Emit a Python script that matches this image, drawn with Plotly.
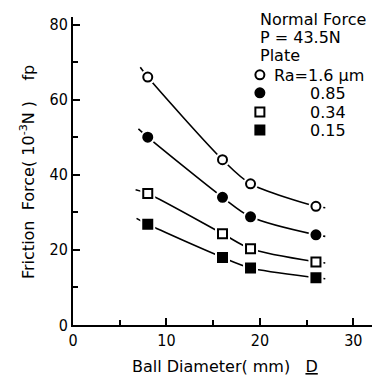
import plotly.graph_objects as go

# ---- data ----
ball_diameter = [8, 16, 19, 26]
fp_ra_160 = [66, 44, 37.6, 31.6]
fp_ra_085 = [50, 34, 28.8, 24]
fp_ra_034 = [35, 24.3, 20.3, 16.8]
fp_ra_015 = [26.8, 18, 15.2, 12.6]

# fitted-curve ends (short tails beyond the first/last points)
curve_x_start = [7.2, 7.0, 6.7, 6.8]
curve_y_start = [68.6, 52.2, 36.0, 28.4]
curve_x_end = [27.0, 27.0, 27.0, 27.0]
curve_y_end = [31.2, 23.6, 16.5, 12.3]

series = [fp_ra_160, fp_ra_085, fp_ra_034, fp_ra_015]
symbols = ["circle", "circle", "square", "square"]
fills = ["white", "black", "white", "black"]
legend_labels = ["Ra=1.6 \u03bcm", "0.85", "0.34", "0.15"]
legend_marker_x = [20.0, 20.0, 20.0, 20.0]
legend_marker_y = [66.6, 61.8, 56.7, 51.9]
head_lines = ["Normal Force", "P = 43.5N", "Plate"]

FONT = "DejaVu Sans"
FONT_C = "DejaVu Sans Condensed, DejaVu Sans"

# plot-area geometry (pixels) for placing text in paper coords
L, T, W, H = 73, 17, 299, 308


def px(x):
    return (x - L) / W


def py(y):
    return (T + H - y) / H


fig = go.Figure()

for i, ys in enumerate(series):
    cx = [curve_x_start[i]] + ball_diameter + [curve_x_end[i]]
    cy = [curve_y_start[i]] + ys + [curve_y_end[i]]
    fig.add_trace(go.Scatter(x=cx, y=cy, mode="lines",
                             line=dict(color="black", width=1.6, shape="spline", smoothing=0.8),
                             hoverinfo="skip", showlegend=False))

for i, ys in enumerate(series):
    fig.add_trace(go.Scatter(x=ball_diameter, y=ys, mode="markers",
                             marker=dict(symbol=symbols[i], size=15, color="white",
                                         line=dict(width=0)),
                             hoverinfo="skip", showlegend=False))
    fig.add_trace(go.Scatter(x=ball_diameter, y=ys, mode="markers",
                             marker=dict(symbol=symbols[i], size=9, color=fills[i],
                                         line=dict(color="black", width=2)),
                             showlegend=False))

for i in range(4):
    fig.add_trace(go.Scatter(x=[legend_marker_x[i]], y=[legend_marker_y[i]], mode="markers",
                             marker=dict(symbol=symbols[i], size=9, color=fills[i],
                                         line=dict(color="black", width=2)),
                             cliponaxis=False, showlegend=False, hoverinfo="skip"))

annos = []
for t, yv in zip(head_lines, [18.5, 36.5, 55]):
    annos.append(dict(x=px(258), y=py(yv), xref="paper", yref="paper", text=t,
                      showarrow=False, xanchor="left", yanchor="middle", height=18,
                      font=dict(family=FONT, size=16, color="black")))
label_left = [272, 308, 308, 308]
label_y = [75, 93, 112, 130]
for i in range(4):
    annos.append(dict(x=px(label_left[i]), y=py(label_y[i]), xref="paper", yref="paper",
                      text=legend_labels[i], showarrow=False, xanchor="left",
                      yanchor="middle", height=18,
                      font=dict(family=FONT, size=16, color="black")))

# axis titles
annos.append(dict(x=px(130), y=py(366), xref="paper", yref="paper",
                  text="Ball Diameter( mm)   <u>D</u>", showarrow=False,
                  xanchor="left", yanchor="middle",
                  font=dict(family=FONT, size=16, color="black")))
annos.append(dict(x=px(27), y=py(172), xref="paper", yref="paper",
                  text="Friction  Force( 10<sup>-3</sup>N )    fp", showarrow=False,
                  textangle=-90, xanchor="center", yanchor="middle",
                  font=dict(family=FONT, size=16, color="black")))

fig.update_layout(
    width=374, height=379,
    margin=dict(l=L, r=374 - L - W, t=T, b=379 - T - H),
    paper_bgcolor="white", plot_bgcolor="white",
    annotations=annos,
    font=dict(family=FONT_C, size=16, color="black"),
    xaxis=dict(range=[0, 32], showgrid=False, zeroline=False,
               showline=True, linecolor="black", linewidth=2,
               tickmode="array", tickvals=[0, 10, 20, 30],
               ticks="inside", ticklen=7, tickwidth=2, tickcolor="black",
               minor=dict(tickmode="array", tickvals=[5, 15, 25], ticks="inside",
                          ticklen=5, tickwidth=2, tickcolor="black"),
               tickfont=dict(family=FONT_C, size=16)),
    yaxis=dict(range=[0, 82], showgrid=False, zeroline=False,
               showline=True, linecolor="black", linewidth=2,
               tickmode="array", tickvals=[0, 20, 40, 60, 80],
               ticks="inside", ticklen=7, tickwidth=2, tickcolor="black",
               minor=dict(tickmode="array", tickvals=[10, 30, 50, 70], ticks="inside",
                          ticklen=5, tickwidth=2, tickcolor="black"),
               tickfont=dict(family=FONT_C, size=16)),
)

fig.write_html("out.html")
